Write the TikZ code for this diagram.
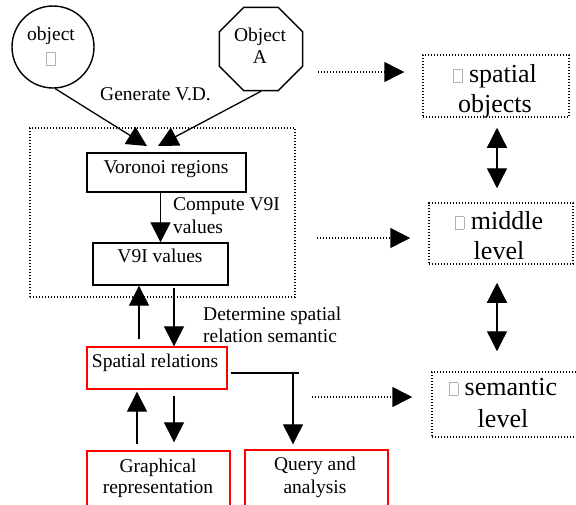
\documentclass[tikz,border=0pt]{standalone}
\usepackage{fontspec}
\setmainfont{Liberation Serif}
\usetikzlibrary{arrows.meta,shapes.geometric}
\newcommand\missingglyph{\textcolor{gray!60}{\setlength\fboxsep{0pt}\setlength\fboxrule{0.7pt}\fbox{\rule{0pt}{12pt}\hspace{8pt}}}}
\begin{document}
\begin{tikzpicture}[x=1pt,y=-1pt,
  font=\fontsize{19.5}{22}\selectfont,
  arr/.style={line width=1.3pt,-{Triangle[length=20pt,width=20pt]}},
  dblarr/.style={line width=1.3pt,{Triangle[length=20pt,width=20pt]}-{Triangle[length=20pt,width=20pt]}},
  dotarr/.style={line width=1.5pt,dash pattern=on 1.4pt off 1.6pt,-{Triangle[length=20pt,width=20pt]}},
  boxb/.style={draw,line width=1.4pt,rectangle,inner sep=0pt},
  boxr/.style={draw=red,line width=1.4pt,rectangle,inner sep=0pt},
  boxd/.style={draw,line width=1.5pt,dash pattern=on 1.4pt off 1.6pt,rectangle,inner sep=0pt},
  lbl/.style={anchor=base,inner sep=0pt,align=center},
  lbll/.style={anchor=base west,inner sep=0pt,align=left},
  big/.style={font=\fontsize{26}{30}\selectfont},
]
\clip (0,0) rectangle (576,504);
\fill[white] (0,0) rectangle (576,504);

% top objects
\node[draw,circle,line width=1.4pt,minimum size=82pt,inner sep=0pt] (objB) at (53,47) {};
\node[lbl,font=\fontsize{19.5}{25}\selectfont] (tobjB) at (51,65) {object\\\missingglyph};
\node[draw,regular polygon,regular polygon sides=8,minimum size=90pt,inner sep=0pt,line width=1.4pt] (objA) at (261,49) {};
\node[lbl] (tobjA) at (260,63) {Object\\A};
\node[lbll] (tgen) at (100,100) {Generate V.D.};

% frame and inner boxes
\node[boxd,minimum width=265pt,minimum height=169pt] (frame) at (162.5,212.5) {};
\node[boxb,minimum width=159pt,minimum height=39pt] (vor) at (166.5,172.5) {};
\node[lbl] (tvor) at (166,173) {Voronoi regions};
\node[boxb,minimum width=135pt,minimum height=42pt] (v9i) at (160.5,264) {};
\node[lbl] (tv9i) at (160,262) {V9I values};
\node[lbll,font=\fontsize{19.5}{23}\selectfont] (tcomp) at (173,233) {Compute V9I\\values};

\coordinate (tipL) at (147,146);
\coordinate (tipR) at (158,146);
\draw[arr] (objB.-87) -- (tipL);
\draw[arr] (objA.south) -- (tipR);
\draw[arr] (vor.south -| v9i.north) -- (v9i.north);

% spatial relations
\node[boxr,minimum width=140pt,minimum height=42pt] (sr) at (157,368) {};
\node[lbl] (tsr) at (155,367) {Spatial relations};
\node[lbll] (tdet) at (203,342) {Determine spatial\\relation semantic};
\draw[arr,shorten <=7pt] (sr.north -| 139,0) -- (v9i.south -| 139,0);
\draw[arr,shorten <=2pt] (v9i.south -| 174,0) -- (sr.north -| 174,0);

% bottom boxes
\node[boxr,minimum width=143pt,minimum height=60pt] (gr) at (158.5,481) {};
\node[lbl,font=\fontsize{19.5}{21}\selectfont] (tgr) at (158,493) {Graphical\\representation};
\node[boxr,minimum width=143pt,minimum height=60pt] (qa) at (316.5,480) {};
\node[lbl,font=\fontsize{19.5}{23}\selectfont] (tqa) at (315,493) {Query and\\analysis};
\draw[arr,shorten <=6pt,shorten >=2pt] (gr.north -| 137,0) -- (sr.south -| 137,0);
\draw[arr,shorten <=6pt,shorten >=8pt] (sr.south -| 174,0) -- (gr.north -| 174,0);
\coordinate (j) at (299,373);
\coordinate (j2) at (293,373);
\draw[line width=1.3pt,shorten <=3pt] (sr.east |- j) -- (j);
\draw[arr,shorten >=5pt] (j2) -- (qa.north -| j2);

% right column
\node[boxd,minimum width=146pt,minimum height=62pt] (so) at (496,86) {};
\node[lbl,big] (tso) at (495,112) {\missingglyph{} spatial\\objects};
\node[boxd,minimum width=144pt,minimum height=61pt] (ml) at (501,233.5) {};
\node[lbl,big] (tml) at (499,259) {\missingglyph{} middle\\level};
\node[boxd,minimum width=158pt,minimum height=65pt] (sl) at (511,404.5) {};
\node[lbl,big,font=\fontsize{26}{32}\selectfont] (tsl) at (503,427) {\missingglyph{} semantic\\level};

\draw[dblarr,shorten <=10pt,shorten >=14pt] (so.south -| 497,0) -- (ml.north -| 497,0);
\draw[dblarr,shorten <=18pt,shorten >=20pt] (ml.south -| 497,0) -- (sl.north -| 497,0);

\coordinate (d1) at (318,72);
\coordinate (d2) at (317,238);
\coordinate (d3) at (312,397);
\draw[dotarr,shorten >=18pt] (d1) -- (d1 -| so.west);
\draw[dotarr,shorten >=18pt] (d2) -- (d2 -| ml.west);
\draw[dotarr,shorten >=19pt] (d3) -- (d3 -| sl.west);
\end{tikzpicture}
\end{document}
